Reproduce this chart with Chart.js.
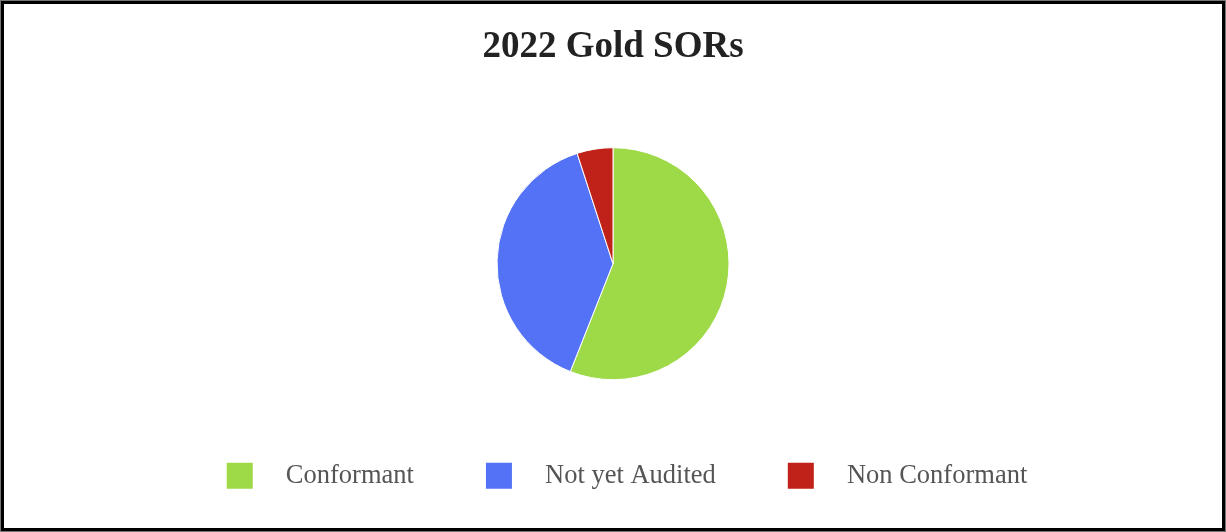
<!DOCTYPE html>
<html>
<head>
<meta charset="utf-8">
<script src="https://cdn.jsdelivr.net/npm/chart.js@4/dist/chart.umd.min.js"></script>
<style>
  html, body { margin: 0; padding: 0; background: #fff; }
  #frame {
    position: absolute; left: 0; top: 0;
    width: 1226px; height: 532px;
    box-sizing: border-box;
    border: 1px solid #777;
  }
  #inner {
    width: 100%; height: 100%;
    box-sizing: border-box;
    border: 3px solid #000;
    background: #fff;
  }
  canvas { display: block; }
</style>
</head>
<body>
<div id="frame"><div id="inner"><canvas id="pie" width="1218" height="524"></canvas></div></div>
<script>
// chart data
const chartTitle = "2022 Gold SORs";
const categories = ["Conformant", "Not yet Audited", "Non Conformant"];
const shares = [56, 39, 5];
const sliceColors = ["#9ed947", "#5472f6", "#c0221a"];

// legend in the reference sits a bit right of the pie centre
const nudgeLegend = {
    id: 'nudgeLegend',
    afterLayout(chart) {
        chart.legend.left += 14;
        chart.legend.right += 14;
    }
};

const ctx = document.getElementById('pie').getContext('2d');

new Chart(ctx, {
    type: 'pie',
    data: {
        labels: categories,
        datasets: [{
            data: shares,
            backgroundColor: sliceColors,
            borderColor: '#ffffff',
            borderWidth: 1,
            radius: 116
        }]
    },
    options: {
        responsive: false,
        animation: false,
        layout: { padding: { top: 0, bottom: 29, left: 0, right: 0 } },
        plugins: {
            title: {
                display: true,
                text: chartTitle,
                color: '#222222',
                font: { family: 'Liberation Serif', size: 37, weight: 'bold' },
                padding: { top: 21, bottom: 67.5 }
            },
            legend: {
                position: 'bottom',
                labels: {
                    boxWidth: 26,
                    boxHeight: 26,
                    padding: 72,
                    color: '#555555',
                    font: { family: 'Liberation Serif', size: 26.5 },
                    // extra room between swatch and text
                    generateLabels(chart) {
                        const items = Chart.controllers.pie.overrides.plugins.legend.labels.generateLabels(chart);
                        items.forEach(it => { it.text = '   ' + it.text; it.lineWidth = 0; });
                        return items;
                    }
                }
            },
            tooltip: { enabled: false }
        }
    },
    plugins: [nudgeLegend]
});
</script>
</body>
</html>
